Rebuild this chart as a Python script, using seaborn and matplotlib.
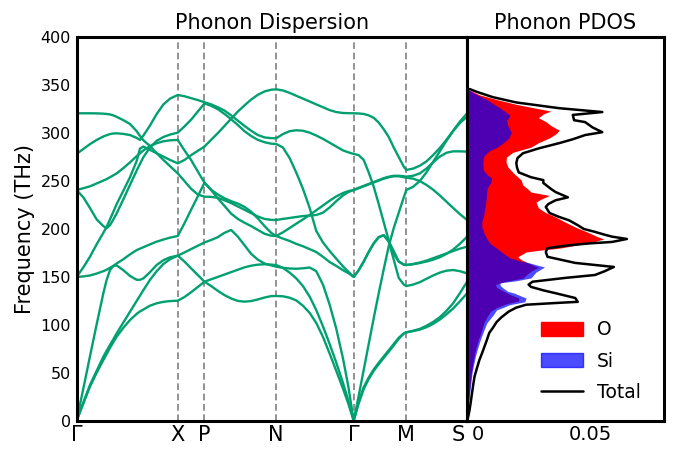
import matplotlib
matplotlib.use("Agg")
import matplotlib.pyplot as plt
import matplotlib.transforms as mtrans
from matplotlib.patches import Patch
from matplotlib.lines import Line2D
import numpy as np
import pandas as pd
import seaborn as sns

# high-symmetry path
hs_labels = ["Γ", "X", "P", "N", "Γ", "M", "S"]
hs_k = [0.0, 1.01, 1.277, 1.993, 2.767, 3.293, 3.9]

# k samples along each segment of the path
k_gx = [0, 0.067, 0.133, 0.2, 0.267, 0.3, 0.333, 0.367, 0.4, 0.467, 0.533, 0.6, 0.633, 0.667, 0.733, 0.8,
        0.867, 0.933, 1.01]
k_xp = [1.077, 1.143, 1.21, 1.277]
k_pn = [1.343, 1.41, 1.477, 1.543, 1.61, 1.677, 1.743, 1.81, 1.877, 1.943, 1.993]
k_ng = [2.06, 2.127, 2.193, 2.26, 2.327, 2.393, 2.46, 2.527, 2.593, 2.66, 2.713, 2.767]
k_gm = [2.817, 2.867, 2.917, 2.967, 3.017, 3.067, 3.117, 3.167, 3.217, 3.267, 3.293]
k_ms = [3.36, 3.427, 3.493, 3.56, 3.627, 3.693, 3.76, 3.827, 3.9]
k_path = k_gx + k_xp + k_pn + k_ng + k_gm + k_ms

# branch frequencies (THz), segment by segment: G-X, X-P, P-N, N-G, G-M, M-S
b1 = ([0, 18, 35.5, 50, 63.3, 69.5, 76, 82, 87.7, 97, 105, 111.5, 114, 116, 120, 122.5, 124, 124.8, 125.2]
      + [129, 134, 139.5, 145]
      + [140.5, 135.5, 131, 127.5, 125, 124.2, 124.8, 126.5, 128.5, 130, 130.1]
      + [129.8, 128.3, 125.5, 120, 112.5, 102, 87.5, 70, 52, 33.5, 18, 0]
      + [18, 33, 43.5, 52, 59, 65.5, 72, 78.5, 85.5, 91, 92.2]
      + [93.5, 95, 97.5, 101, 105.5, 111, 117, 124.5, 132.9])
b2 = ([0, 19, 37.2, 52, 66.8, 73, 79, 85, 91.1, 102.5, 113.7, 125, 130.5, 136.3, 147, 156, 163.5, 168.5, 172.2]
      + [166, 159, 152, 145]
      + [147.5, 150, 152.5, 155, 157.5, 160, 161.7, 162.8, 163.2, 162.8, 162.4]
      + [159.5, 154.5, 148.5, 140.5, 129.5, 115.5, 98.5, 80, 60.5, 39.5, 21, 0]
      + [20, 35, 45, 53.5, 60.5, 67, 73.5, 80, 86.5, 91, 92.2]
      + [93.8, 95.8, 99, 103, 108, 114.5, 122.5, 133, 145])
b3 = ([0, 33.5, 67, 100.5, 133, 147, 157, 161.5, 162, 157, 151, 147, 147, 148.5, 155, 162.5, 167.5, 170.5, 172.2]
      + [175.5, 179, 182.5, 186]
      + [188.5, 191.5, 196, 199, 192, 183, 174, 168, 164, 162, 160.7]
      + [159.5, 158.8, 158.5, 159, 159.8, 156, 142, 121, 96, 65, 36, 0]
      + [26, 53, 80, 107, 133, 158, 182, 201, 217, 233, 240.7]
      + [244, 250, 259, 270, 281, 292, 302, 310.5, 317.2])
b4 = ([150, 150.5, 151.5, 153.5, 156, 157.5, 159.5, 161.5, 164, 168.5, 173.5, 178, 179.5, 181, 184, 186.8, 189,
       191, 192.7]
      + [206, 220, 234, 248.3]
      + [241, 236, 232, 229, 226.5, 223, 218, 211, 203, 196, 192.7]
      + [190, 187.5, 184.5, 182, 179, 176, 171, 165.5, 161.5, 157, 154, 150]
      + [157, 166, 176, 185, 191.5, 193.5, 187, 177, 166, 162.8, 162.4]
      + [163.2, 164.5, 166, 168, 170.5, 174, 178.5, 184.5, 192])
b5 = ([150, 160, 171, 184, 196, 202.4, 210, 218, 226, 240, 254, 271, 284, 286, 282.5, 279, 275.5, 272, 268.5]
      + [272, 277, 281.5, 286]
      + [293, 300, 307.5, 315, 322.5, 329, 335, 340, 343.5, 345.3, 345.7]
      + [344.5, 342, 339, 336, 333, 330, 327, 324, 322, 321, 320.8, 320.7]
      + [320.5, 320, 318.5, 316, 311, 304, 296, 285, 275, 265, 261.6]
      + [263, 266, 270.5, 277, 284.5, 293, 302.5, 312, 320.7])
b6 = ([240.7, 233, 222, 210, 203, 200.7, 204, 210, 216.3, 231, 246, 261, 268, 275, 285, 292, 296, 298.5, 300.5]
      + [307, 314, 322.5, 331]
      + [328.5, 325, 320, 314.5, 308.5, 302, 297, 293, 290.5, 289, 288.7]
      + [285, 274, 259, 242, 222, 198, 186, 177, 169, 161, 155.5, 150]
      + [157, 166, 176, 185, 191.5, 193.5, 187, 168, 149, 142, 140.5]
      + [142, 144.5, 148, 151.5, 154.5, 156.5, 157.2, 156, 153.7])
b7 = ([240.7, 242.5, 244.5, 247.5, 250.5, 252, 254, 256, 258, 263.5, 269.5, 276, 279, 282, 286.5, 289.5, 291.5,
       292.5, 292.9]
      + [282, 272, 260, 248.3]
      + [240.7, 232, 224, 216, 210.5, 206.5, 203, 199, 195, 193, 192.7]
      + [196.5, 201, 205.5, 210, 214.6, 219.5, 224.5, 229.5, 234, 237.5, 239.5, 240.7]
      + [243, 245, 247, 249, 251, 253, 254.5, 255.5, 255.5, 255, 254.6]
      + [255.5, 258, 263, 269.5, 275.5, 279.5, 281, 281, 280.7])
b8 = ([278.3, 283.5, 288.5, 292.9, 296.5, 297.8, 299, 299.6, 299.8, 299.2, 298, 295, 292.9, 297.5, 308, 320, 330,
       336, 339.8]
      + [338.5, 336.5, 334.5, 332.2]
      + [330, 327, 323.5, 318.5, 313, 307.5, 302.5, 298, 295.5, 294.8, 294.6]
      + [299, 302, 303, 302.5, 300.5, 297.5, 294, 290, 286, 282, 280, 278.3]
      + [277, 272, 259, 244.2, 226, 207, 188, 174, 166, 163, 162.4]
      + [163.5, 165, 167, 169.5, 172, 174.5, 177, 179.5, 181.6])
b9 = ([320.7, 320.7, 320.7, 320.6, 320.3, 320, 319.5, 318.5, 317, 313.5, 309.5, 302, 297, 292.5, 286.5, 279, 272,
       265.5, 258]
      + [250, 242, 236, 233.7]
      + [233.5, 232.5, 230, 227, 223.5, 220, 216.5, 213, 210.5, 209.5, 209.4]
      + [210.5, 211.5, 212.5, 213.5, 214, 214.6, 217, 222.5, 229, 235, 238.5, 240.7]
      + [242.5, 244.5, 246.5, 248.5, 250.5, 252.5, 254, 255, 255, 254, 253.5]
      + [252.5, 250, 246, 241, 235, 228.5, 222, 215.5, 209.4])

# projected DOS (THz, states)
o_freq = [346, 340, 335, 330, 326, 323, 320, 316, 312, 308, 303, 299, 295, 290, 285.4, 280, 275, 270, 264.6,
          258, 251, 246, 241, 238.5, 235, 231, 228, 222, 217, 212.5, 207, 202, 196, 192, 189.6, 187, 185,
          182, 180, 178, 176, 171, 168, 165.6, 162, 160, 156, 152, 149, 145, 142, 139, 135, 131, 128, 125,
          122, 118, 114, 108, 102, 95, 84, 75, 66.7, 50, 35, 22, 10, 0]
o_dos = [0.0, 0.005, 0.012, 0.02, 0.028, 0.034, 0.031, 0.029, 0.032, 0.034, 0.0375, 0.036, 0.0335, 0.029,
         0.026, 0.0186, 0.016, 0.0158, 0.0166, 0.019, 0.022, 0.0226, 0.025, 0.026, 0.0335, 0.03, 0.028, 0.029,
         0.032, 0.036, 0.04, 0.044, 0.0496, 0.053, 0.0556, 0.052, 0.048, 0.042, 0.0375, 0.03, 0.024, 0.0206,
         0.022, 0.024, 0.027, 0.029, 0.026, 0.024, 0.023, 0.015, 0.0115, 0.012, 0.015, 0.018, 0.021, 0.021,
         0.016, 0.012, 0.0095, 0.008, 0.0068, 0.006, 0.0045, 0.0035, 0.0028, 0.0017, 0.0011, 0.0006, 0.0002, 0]

si_freq = [346, 340, 335, 330, 326, 324, 319, 316, 313.5, 308, 301, 295, 289.6, 285, 282, 278, 275, 268,
           261.5, 257, 253, 248, 244, 240.6, 232, 223, 215, 208, 202, 195, 190, 185, 180, 175, 170, 167,
           164.6, 162, 160.4, 158, 155, 152, 149, 146, 143.75, 141, 138.5, 135, 133, 130, 128, 124, 121, 118,
           115.6, 110, 102, 93, 84, 75, 66.7, 58, 50, 35, 22, 10, 0]
si_dos = [0.0, 0.004, 0.008, 0.011, 0.0135, 0.0146, 0.0173, 0.017, 0.016, 0.0165, 0.018, 0.017, 0.0146,
          0.012, 0.0093, 0.0075, 0.0066, 0.0064, 0.0066, 0.008, 0.010, 0.0095, 0.0085, 0.008, 0.0078, 0.0073,
          0.0068, 0.006, 0.006, 0.007, 0.008, 0.0093, 0.012, 0.0145, 0.0173, 0.021, 0.0254, 0.029, 0.0315,
          0.03, 0.028, 0.027, 0.026, 0.02, 0.0133, 0.0135, 0.0146, 0.0165, 0.0193, 0.022, 0.024, 0.0234,
          0.0173, 0.0145, 0.012, 0.0105, 0.008, 0.0066, 0.0053, 0.0042, 0.0033, 0.0026, 0.002, 0.0013, 0.0008,
          0.0003, 0]

tot_freq = [346, 343, 337.5, 332, 326, 322, 319, 313.5, 311.5, 306, 301, 298, 293.6, 289.6, 284, 279, 274,
            268.75, 264, 259, 254, 251, 248, 246, 242, 238.5, 233, 230, 226, 223, 216.7, 213, 209, 204, 200,
            197, 194, 192, 189.6, 186.5, 185, 183, 180, 176, 171, 168, 164.6, 160.4, 156, 152, 149, 145, 142,
            139.6, 136, 133, 128, 124, 123, 121, 118, 114, 108, 103, 97, 91.6, 84, 77, 70, 63.5, 55, 46, 38,
            29, 20, 11.5, 5, 0]
tot_dos = [0.001, 0.004, 0.0105, 0.02, 0.0375, 0.055, 0.043, 0.0435, 0.048, 0.051, 0.055, 0.048, 0.043,
           0.0375, 0.029, 0.0227, 0.0205, 0.020, 0.0203, 0.021, 0.026, 0.031, 0.031, 0.032, 0.034, 0.036,
           0.041, 0.036, 0.033, 0.032, 0.0335, 0.037, 0.0415, 0.045, 0.0475, 0.052, 0.056, 0.059, 0.065,
           0.059, 0.05, 0.0415, 0.0327, 0.032, 0.0327, 0.038, 0.044, 0.0597, 0.056, 0.052, 0.040, 0.0266,
           0.025, 0.026, 0.031, 0.036, 0.044, 0.045, 0.0375, 0.024, 0.02, 0.017, 0.014, 0.012, 0.0105, 0.009,
           0.008, 0.007, 0.006, 0.005, 0.004, 0.003, 0.0025, 0.002, 0.0015, 0.001, 0.0005, 0]

branches = [b1, b2, b3, b4, b5, b6, b7, b8, b9]
bands = pd.concat(
    [pd.DataFrame({"k": k_path, "freq": f, "branch": i}) for i, f in enumerate(branches)],
    ignore_index=True,
)

sns.set_style("white")
plt.rcParams["font.family"] = ["DejaVu Sans"]
plt.rcParams.update({"text.color": "black", "axes.labelcolor": "black",
                     "xtick.color": "black", "ytick.color": "black"})

green = "#02a070"

fig = plt.figure(figsize=(6.78, 4.49), dpi=100)
ax1 = fig.add_axes([0.113, 0.063, 0.576, 0.854])
ax2 = fig.add_axes([0.689, 0.063, 0.290, 0.854])

sns.lineplot(data=bands, x="k", y="freq", units="branch", estimator=None, sort=False,
             color=green, linewidth=1.7, ax=ax1)
for k in hs_k[1:-1]:
    ax1.axvline(k, color="grey", linestyle=(0, (4, 2.2)), linewidth=1.2, zorder=0)

ax1.set_xlim(hs_k[0], hs_k[-1])
ax1.set_ylim(0, 400)
ax1.set_xticks(hs_k)
ax1.set_xticklabels(hs_labels, fontsize=15)
ax1.set_yticks(range(0, 401, 50))
ax1.tick_params(axis="y", direction="in", length=5, width=2, labelsize=11.5, pad=4)
ax1.tick_params(axis="x", length=0, pad=3)
ax1.set_xlabel("")
ax1.set_ylabel("Frequency (THz)", fontsize=15)
ax1.set_title("Phonon Dispersion", fontsize=15, pad=6)
lab_s = ax1.get_xticklabels()[-1]
lab_s.set_transform(lab_s.get_transform() + mtrans.ScaledTranslation(-0.09, 0, fig.dpi_scale_trans))

# PDOS
ax2.fill_betweenx(o_freq, 0, o_dos, color="red", linewidth=0)
ax2.fill_betweenx(si_freq, 0, si_dos, color="blue", alpha=0.7, linewidth=0)
sns.lineplot(x=tot_dos, y=tot_freq, sort=False, estimator=None, orient="y", color="black",
             linewidth=1.8, ax=ax2)
ax2.set_xlim(0, 0.08)
ax2.set_ylim(0, 400)
ax2.set_yticks([])
ax2.set_xticks([0, 0.05])
ax2.set_xticklabels(["0", "0.05"], fontsize=14)
ax2.tick_params(axis="x", direction="in", length=5, width=2, pad=3)
lab0 = ax2.get_xticklabels()[0]
lab0.set_transform(lab0.get_transform() + mtrans.ScaledTranslation(0.11, 0, fig.dpi_scale_trans))
ax2.set_title("Phonon PDOS", fontsize=15, pad=6)

handles = [Patch(color="red"), Patch(color="blue", alpha=0.7), Line2D([], [], color="black", lw=1.8)]
ax2.legend(handles, ["O", "Si", "Total"], loc="lower right", bbox_to_anchor=(0.923, 0.03),
           frameon=False, fontsize=13.5, handlelength=2.25, handleheight=0.75, handletextpad=0.75,
           borderaxespad=0, labelspacing=0.65)

for ax in (ax1, ax2):
    for s in ax.spines.values():
        s.set_linewidth(2.2)
        s.set_color("black")

fig.savefig("out.png", dpi=100)
